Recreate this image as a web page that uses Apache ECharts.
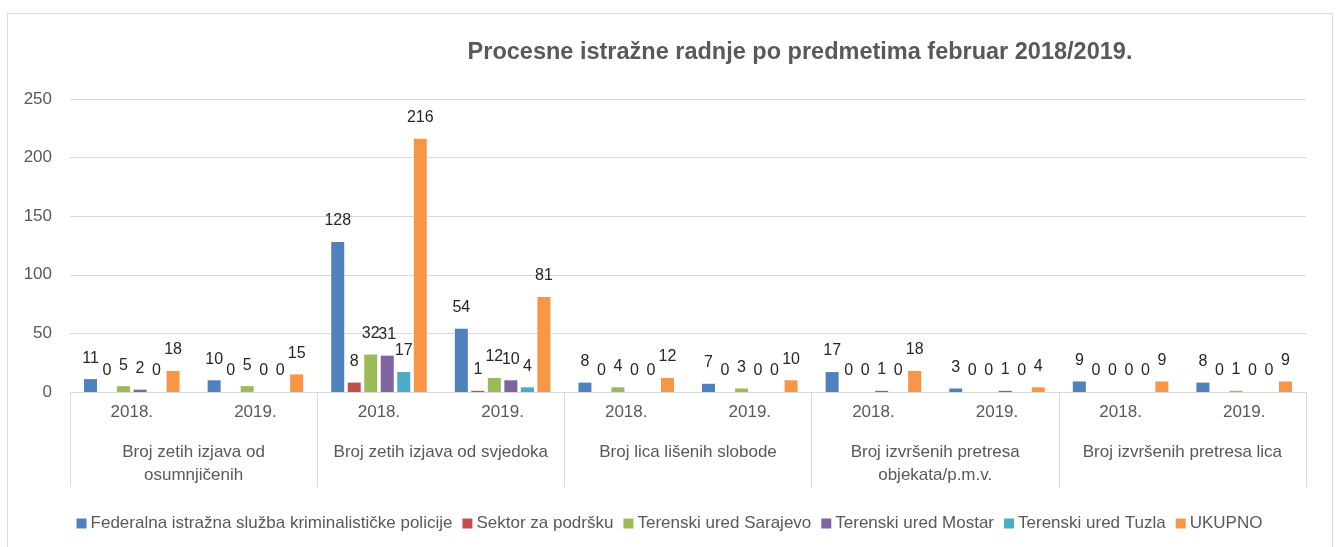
<!DOCTYPE html>
<html>
    <head>
        <title>Procesne istražne radnje</title>
        <meta charset="UTF-8">
        <script src="https://cdn.jsdelivr.net/npm/echarts@6/dist/echarts.min.js"></script>
        <style>
            body { margin: 0; background: #fff; overflow: hidden; }
            #frame { position: absolute; left: 7px; top: 13px; width: 1324px; height: 600px; border: 1px solid #d9d9d9; }
            #main { position: absolute; left: 0; top: 0; width: 1339px; height: 547px; }
        </style>
    </head>
    <body>
        <div id="frame"></div>
        <div id="main"></div>
        <script>
            // podaci sa grafikona
            var godine = ['2018.', '2019.', '2018.', '2019.', '2018.', '2019.', '2018.', '2019.', '2018.', '2019.'];
            var predmeti = ['Broj zetih izjava od\nosumnjičenih', 'Broj zetih izjava od svjedoka', 'Broj lica lišenih slobode',
                'Broj izvršenih pretresa\nobjekata/p.m.v.', 'Broj izvršenih pretresa lica'];
            var nazivi = ['Federalna istražna služba kriminalističke policije', 'Sektor za podršku', 'Terenski ured Sarajevo',
                'Terenski ured Mostar', 'Terenski ured Tuzla', 'UKUPNO'];
            var federalna = [11, 10, 128, 54, 8, 7, 17, 3, 9, 8];
            var sektor = [0, 0, 8, 1, 0, 0, 0, 0, 0, 0];
            var sarajevo = [5, 5, 32, 12, 4, 3, 0, 0, 0, 1];
            var mostar = [2, 0, 31, 10, 0, 0, 1, 1, 0, 0];
            var tuzla = [0, 0, 17, 4, 0, 0, 0, 0, 0, 0];
            var ukupno = [18, 15, 216, 81, 12, 10, 18, 4, 9, 9];
            var boje = ['#4F81BD', '#C0504D', '#9BBB59', '#8064A2', '#4BACC6', '#F79646'];

            var font = 'Liberation Sans, Arial, sans-serif';
            var chart = echarts.init(document.getElementById('main'));

            var serije = [federalna, sektor, sarajevo, mostar, tuzla, ukupno].map(function (d, i) {
                return {
                    name: nazivi[i],
                    type: 'bar',
                    data: d,
                    barWidth: 13,
                    barGap: '27%',
                    itemStyle: { color: boje[i] },
                    label: {
                        show: true,
                        position: 'top',
                        distance: 13,
                        color: '#262626',
                        fontSize: 16,
                        fontFamily: font
                    }
                };
            });

            var option = {
                animation: false,
                color: boje,
                title: {
                    text: 'Procesne istražne radnje po predmetima februar 2018/2019.',
                    left: 795,
                    textAlign: 'center',
                    top: 36,
                    textStyle: { fontSize: 23.5, fontWeight: 'bold', color: '#595959', fontFamily: font }
                },
                legend: {
                    data: nazivi,
                    left: 'center',
                    top: 510,
                    itemWidth: 10,
                    itemHeight: 10,
                    itemGap: 10,
                    icon: 'rect',
                    textStyle: { fontSize: 17, color: '#595959', fontFamily: font, padding: [0, 0, 0, -1] }
                },
                grid: { left: 70, right: 33, top: 99, bottom: 155 },
                xAxis: [{
                        type: 'category',
                        data: godine,
                        axisLine: { lineStyle: { color: '#d9d9d9' } },
                        axisTick: { show: false },
                        axisLabel: { interval: 0, margin: 12, fontSize: 17, color: '#595959', fontFamily: font }
                    }, {
                        type: 'category',
                        data: predmeti,
                        position: 'bottom',
                        offset: 0,
                        axisLine: { show: false },
                        axisTick: { show: true, interval: 0, length: 95, lineStyle: { color: '#d9d9d9' } },
                        axisLabel: { interval: 0, margin: 49, fontSize: 17, lineHeight: 23, color: '#595959', fontFamily: font, verticalAlign: 'top' }
                    }],
                yAxis: {
                    type: 'value',
                    min: 0,
                    max: 250,
                    interval: 50,
                    axisLine: { show: false },
                    axisTick: { show: false },
                    splitLine: { lineStyle: { color: '#d9d9d9' } },
                    axisLabel: { margin: 18, fontSize: 17, color: '#595959', fontFamily: font }
                },
                series: serije
            };
            chart.setOption(option);
        </script>
    </body>
</html>
